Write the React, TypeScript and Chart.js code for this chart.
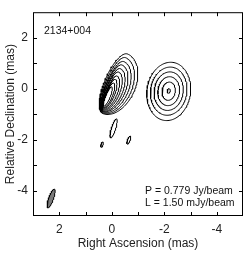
import React, { useEffect, useRef } from "react";
import { Chart, registerables } from "chart.js";

Chart.register(...registerables);

// ---- texts ----
const SOURCE_NAME = "2134+004";
const PEAK_LABEL = "P = 0.779 Jy/beam";
const LOWEST_LABEL = "L = 1.50 mJy/beam";
const X_TITLE = "Right Ascension (mas)";
const Y_TITLE = "Relative Declination (mas)";

// ---- axes ----
const X_MIN = -5;
const X_MAX = 3;
const Y_MIN = -5;
const Y_MAX = 3;
const TICK_POSITIONS = [3, 2, 1, 0, -1, -2, -3, -4, -5];
const X_TICK_LABELS = [2, 0, -2, -4];
const Y_TICK_LABELS = [2, 0, -2, -4];

// ---- contour parameters: centre RA / Dec (mas), semi-major (mas),
//      half-width on the west and east side (mas), position angle (deg) ----
const contourX = [-0.13, -0.09, -0.06, -0.02, 0.01, 0.04, 0.07, 0.1, 0.13, 0.16,
  -2.17, -2.17, -2.17, -2.17, -2.17, -2.17,
  -0.07, 0.37, -0.65];
const contourY = [0.19, 0.13, 0.07, 0.02, -0.04, -0.09, -0.15, -0.2, -0.26, -0.31,
  -0.11, -0.1, -0.1, -0.1, -0.1, -0.09,
  -1.56, -2.2, -2.02];
const contourMajor = [1.26, 1.17, 1.07, 0.98, 0.89, 0.8, 0.7, 0.61, 0.52, 0.41,
  1.15, 0.95, 0.76, 0.57, 0.36, 0.09,
  0.39, 0.11, 0.17];
const contourWest = [0.78, 0.69, 0.59, 0.51, 0.43, 0.35, 0.28, 0.21, 0.16, 0.1,
  0.83, 0.69, 0.55, 0.41, 0.25, 0.06,
  0.08, 0.04, 0.05];
const contourEast = [0.41, 0.35, 0.3, 0.26, 0.22, 0.19, 0.15, 0.12, 0.1, 0.07,
  0.83, 0.69, 0.55, 0.41, 0.25, 0.06,
  0.08, 0.04, 0.05];
const contourPA = [-22, -22, -22, -22, -22, -22, -22, -22, -22, -22,
  -8, -8, -8, -8, -8, -8,
  -17, -15, -20];

// ---- restoring beam ----
const beamX = [2.31];
const beamY = [-4.31];
const beamMajor = [0.39];
const beamMinor = [0.09];
const beamPA = [-19];

const FONT = '"Liberation Sans", Arial, Helvetica, sans-serif';

function ellipse(cx: number, cy: number, a: number, bW: number, bE: number, paDeg: number) {
  const n = 120;
  const pa = (paDeg * Math.PI) / 180;
  const ux = Math.sin(pa);
  const uy = Math.cos(pa);
  const vx = Math.cos(pa);
  const vy = -Math.sin(pa);
  const pts: { x: number; y: number }[] = [];
  for (let k = 0; k <= n; k++) {
    const t = (2 * Math.PI * k) / n;
    const c = Math.cos(t);
    const s = Math.sin(t);
    const b = s > 0 ? bE : bW;
    pts.push({ x: cx + a * c * ux + b * s * vx, y: cy + a * c * uy + b * s * vy });
  }
  return pts;
}

const framePlugin = {
  id: "frame",
  afterDraw(chart: any) {
    const { ctx, chartArea, scales } = chart;
    const { left, right, top, bottom } = chartArea;
    const xs = scales.x;
    const ys = scales.y;
    ctx.save();
    ctx.strokeStyle = "#000";
    ctx.lineWidth = 1;
    ctx.strokeRect(left + 0.5, top + 0.5, right - left - 1, bottom - top - 1);
    const tl = 4;
    ctx.beginPath();
    TICK_POSITIONS.forEach((v) => {
      const px = Math.round(xs.getPixelForValue(v)) + 0.5;
      if (px > left + 1 && px < right - 1) {
        ctx.moveTo(px, bottom);
        ctx.lineTo(px, bottom - tl);
        ctx.moveTo(px, top);
        ctx.lineTo(px, top + tl);
      }
      const py = Math.round(ys.getPixelForValue(v)) + 0.5;
      if (py > top + 1 && py < bottom - 1) {
        ctx.moveTo(left, py);
        ctx.lineTo(left + tl, py);
        ctx.moveTo(right, py);
        ctx.lineTo(right - tl, py);
      }
    });
    ctx.stroke();

    ctx.fillStyle = "#111";
    ctx.font = `10.5px ${FONT}`;
    ctx.textBaseline = "middle";
    ctx.textAlign = "left";
    ctx.fillText(SOURCE_NAME, left + 11, top + 19);
    ctx.fillText(PEAK_LABEL, right - 98, bottom - 24.5);
    ctx.fillText(LOWEST_LABEL, right - 98, bottom - 13);
    ctx.restore();
  },
};

export default function App() {
  const ref = useRef<HTMLCanvasElement | null>(null);

  useEffect(() => {
    const prevMargin = document.body.style.margin;
    document.body.style.margin = "0";
    const canvas = ref.current;
    if (!canvas) return;

    const datasets: any[] = contourX.map((cx, i) => ({
      data: ellipse(cx, contourY[i], contourMajor[i], contourWest[i], contourEast[i], contourPA[i]),
      showLine: true,
      pointRadius: 0,
      borderColor: "#000",
      borderWidth: 1,
      fill: false,
      tension: 0,
    }));
    beamX.forEach((bx, i) => {
      datasets.push({
        data: ellipse(bx, beamY[i], beamMajor[i], beamMinor[i], beamMinor[i], beamPA[i]),
        showLine: true,
        pointRadius: 0,
        borderColor: "#000",
        borderWidth: 1,
        backgroundColor: "#7a7a7a",
        fill: "shape",
        tension: 0,
      });
    });

    const chart = new Chart(canvas, {
      type: "scatter",
      data: { datasets },
      options: {
        animation: false,
        responsive: false,
        devicePixelRatio: 1,
        layout: { padding: 0 },
        plugins: { legend: { display: false }, tooltip: { enabled: false } },
        scales: {
          x: {
            type: "linear",
            min: X_MIN,
            max: X_MAX,
            reverse: true,
            position: "bottom",
            grid: { display: false, drawTicks: false },
            border: { display: false },
            ticks: {
              stepSize: 1,
              autoSkip: false,
              maxRotation: 0,
              padding: 6,
              color: "#222",
              font: { family: FONT, size: 12 },
              callback: (v: any) => (X_TICK_LABELS.includes(Number(v)) ? String(v) : ""),
            },
            title: {
              display: true,
              text: X_TITLE,
              color: "#222",
              font: { family: FONT, size: 12 },
              padding: { top: 0, bottom: 3 },
            },
            afterFit: (s: any) => {
              s.height = 38;
            },
          },
          y: {
            type: "linear",
            min: Y_MIN,
            max: Y_MAX,
            position: "left",
            grid: { display: false, drawTicks: false },
            border: { display: false },
            ticks: {
              stepSize: 1,
              autoSkip: false,
              padding: 5,
              color: "#222",
              font: { family: FONT, size: 12 },
              callback: (v: any) => (Y_TICK_LABELS.includes(Number(v)) ? String(v) : ""),
            },
            title: {
              display: true,
              text: Y_TITLE,
              color: "#222",
              font: { family: FONT, size: 12 },
              padding: { top: 3, bottom: 0 },
            },
            afterFit: (s: any) => {
              s.width = 33;
            },
          },
        },
      },
      plugins: [framePlugin],
    });

    return () => {
      chart.destroy();
      document.body.style.margin = prevMargin;
    };
  }, []);

  return (
    <div style={{ position: "fixed", left: 0, top: 0, width: 249, height: 254, background: "#fff" }}>
      <canvas ref={ref} width={249} height={254} style={{ display: "block", width: 249, height: 254 }} />
    </div>
  );
}
